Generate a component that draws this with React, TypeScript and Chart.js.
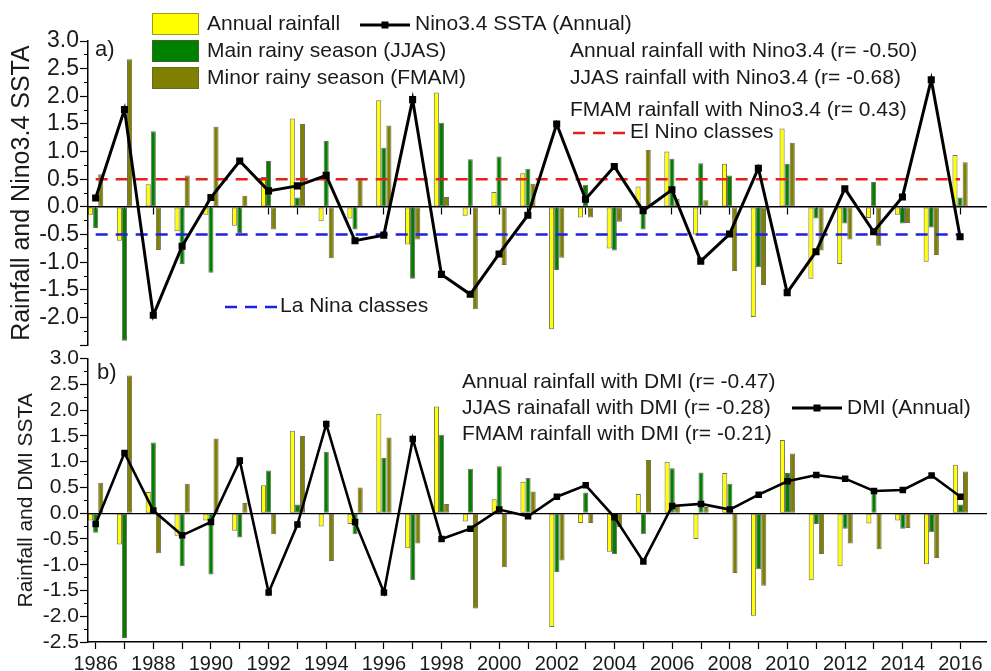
import React, { useEffect, useRef } from 'react';
import { Chart, registerables } from 'chart.js';

Chart.register(...registerables);

// ---------------- data ----------------
const years = [
  1986, 1987, 1988, 1989, 1990, 1991, 1992, 1993, 1994, 1995, 1996,
  1997, 1998, 1999, 2000, 2001, 2002, 2003, 2004, 2005, 2006, 2007,
  2008, 2009, 2010, 2011, 2012, 2013, 2014, 2015, 2016,
];

const annualRainfall = [
  -0.14, -0.61, 0.41, -0.44, -0.14, -0.34, 0.54, 1.6, -0.26, -0.21, 1.93,
  -0.68, 2.07, -0.16, 0.27, 0.61, -2.21, -0.19, -0.75, 0.37, 1.0, -0.5,
  0.78, -1.99, 1.42, -1.3, -1.03, -0.2, -0.14, -0.99, 0.94,
];

const jjasRainfall = [
  -0.38, -2.42, 1.37, -1.03, -1.19, -0.47, 0.83, 0.17, 1.19, -0.41, 1.07,
  -1.3, 1.52, 0.86, 0.91, 0.69, -1.14, 0.4, -0.79, -0.41, 0.87, 0.79,
  0.57, -1.09, 0.78, -0.21, -0.3, 0.45, -0.3, -0.37, 0.17,
];

const fmamRainfall = [
  0.59, 2.67, -0.78, 0.57, 1.45, 0.2, -0.41, 1.5, -0.93, 0.5, 1.47,
  -0.59, 0.18, -1.85, -1.05, 0.42, -0.92, -0.19, -0.27, 1.03, 0.15, 0.12,
  -1.16, -1.41, 1.16, -0.79, -0.59, -0.7, -0.29, -0.87, 0.81,
];

const nino34 = [
  0.16, 1.76, -1.96, -0.71, 0.17, 0.83, 0.29, 0.38, 0.57, -0.61, -0.51,
  1.94, -1.22, -1.58, -0.85, -0.15, 1.5, 0.14, 0.73, -0.07, 0.31, -0.98,
  -0.49, 0.7, -1.55, -0.81, 0.33, -0.45, 0.18, 2.3, -0.54,
];

const dmi = [
  -0.21, 1.17, 0.05, -0.43, -0.17, 1.02, -1.54, -0.22, 1.73, -0.17, -1.54,
  1.44, -0.5, -0.3, 0.07, -0.06, 0.32, 0.54, -0.08, -0.94, 0.14, 0.18,
  0.07, 0.36, 0.62, 0.74, 0.67, 0.43, 0.45, 0.73, 0.32,
];

const elNinoThreshold = 0.5;
const laNinaThreshold = -0.5;

const topCorrelations = [
  'Annual rainfall with Nino3.4 (r= -0.50)',
  'JJAS rainfall with Nino3.4 (r= -0.68)',
  'FMAM rainfall with Nino3.4 (r= 0.43)',
];
const bottomCorrelations = [
  'Annual rainfall with DMI (r= -0.47)',
  'JJAS rainafall with DMI (r= -0.28)',
  'FMAM rainfall with DMI (r= -0.21)',
];
const seriesLabels = ['Annual rainfall', 'Main rainy season (JJAS)', 'Minor rainy season (FMAM)'];

// ---------------- styling ----------------
const FONT = '"Liberation Sans", Arial, Helvetica, sans-serif';
const TEXT = '#1a1a1a';
const X_MIN = 1985.734;
const X_MAX = 2016.9;
const Y_MIN = -2.5;
const Y_MAX = 3.0;
const COLORS = {
  annual: '#ffff00',
  jjas: '#008000',
  fmam: '#808000',
  elNino: '#e3211c',
  laNina: '#2020e0',
};

const pts = (vals: number[]) => years.map((x, i) => ({ x, y: vals[i] }));

function barDatasets() {
  const common = {
    type: 'bar' as const,
    borderWidth: 1,
    borderColor: 'rgba(50,50,20,0.7)',
    borderSkipped: false,
    categoryPercentage: 0.53,
    barPercentage: 1,
    order: 3,
    xAxisID: 'x',
    yAxisID: 'y',
  };
  return [
    { ...common, label: seriesLabels[0], data: pts(annualRainfall), backgroundColor: COLORS.annual },
    { ...common, label: seriesLabels[1], data: pts(jjasRainfall), backgroundColor: COLORS.jjas },
    { ...common, label: seriesLabels[2], data: pts(fmamRainfall), backgroundColor: COLORS.fmam },
  ];
}

function yScales(tickSize: number, title: string, titleSize: number, titlePad: number, hideBottom: boolean) {
  return {
    y: {
      type: 'linear',
      position: 'left',
      min: Y_MIN,
      max: Y_MAX,
      afterFit: (s: any) => {
        s.width = 88;
      },
      ticks: {
        stepSize: 0.5,
        autoSkip: false,
        padding: 1,
        color: TEXT,
        font: { family: FONT, size: tickSize },
        callback: (v: any) => (hideBottom && Number(v) < -2.4 ? '' : Number(v).toFixed(1)),
      },
      grid: { display: true, drawOnChartArea: false, drawTicks: true, tickLength: 8, color: '#000', tickWidth: 1.2 },
      border: { display: true, color: '#000', width: 1.5 },
      title: {
        display: true,
        text: title,
        color: TEXT,
        font: { family: FONT, size: titleSize },
        padding: { top: titlePad, bottom: 0 },
      },
    },
    yMinor: {
      type: 'linear',
      axis: 'y',
      position: { x: X_MIN },
      min: Y_MIN,
      max: Y_MAX,
      ticks: { display: false, stepSize: 0.25, autoSkip: false },
      grid: { display: true, drawOnChartArea: false, drawTicks: true, tickLength: 4, color: '#000', tickWidth: 1 },
      border: { display: false },
    },
  };
}

type Item =
  | { kind: 'text'; text: string; x: number; y: number; size: number }
  | { kind: 'box'; x: number; y: number; w: number; h: number; color: string }
  | { kind: 'line'; x1: number; x2: number; y: number; color: string; width: number; dash?: number[]; marker?: number };

function overlay(id: string, items: Item[], offsetY: number) {
  return {
    id,
    afterDraw(chart: any) {
      const ctx: CanvasRenderingContext2D = chart.ctx;
      ctx.save();
      for (const it of items) {
        if (it.kind === 'text') {
          ctx.fillStyle = TEXT;
          ctx.font = `${it.size}px ${FONT}`;
          ctx.textAlign = 'left';
          ctx.textBaseline = 'middle';
          ctx.fillText(it.text, it.x, it.y - offsetY);
        } else if (it.kind === 'box') {
          ctx.fillStyle = it.color;
          ctx.fillRect(it.x, it.y - offsetY, it.w, it.h);
          ctx.strokeStyle = 'rgba(90,90,60,0.6)';
          ctx.lineWidth = 1;
          ctx.strokeRect(it.x + 0.5, it.y - offsetY + 0.5, it.w - 1, it.h - 1);
        } else {
          ctx.strokeStyle = it.color;
          ctx.lineWidth = it.width;
          ctx.setLineDash(it.dash || []);
          ctx.beginPath();
          ctx.moveTo(it.x1, it.y - offsetY);
          ctx.lineTo(it.x2, it.y - offsetY);
          ctx.stroke();
          ctx.setLineDash([]);
          if (it.marker) {
            const m = it.marker;
            ctx.fillStyle = it.color;
            ctx.fillRect((it.x1 + it.x2) / 2 - m / 2, it.y - offsetY - m / 2, m, m);
          }
        }
      }
      ctx.restore();
    },
  };
}

const TOP_ITEMS: Item[] = [
  { kind: 'text', text: 'a)', x: 95, y: 50, size: 22 },
  { kind: 'box', x: 152, y: 13, w: 47, h: 22, color: COLORS.annual },
  { kind: 'box', x: 152, y: 40, w: 47, h: 22, color: COLORS.jjas },
  { kind: 'box', x: 152, y: 67, w: 47, h: 22, color: COLORS.fmam },
  { kind: 'text', text: seriesLabels[0], x: 207, y: 24, size: 21 },
  { kind: 'text', text: seriesLabels[1], x: 207, y: 51, size: 21 },
  { kind: 'text', text: seriesLabels[2], x: 207, y: 78, size: 21 },
  { kind: 'line', x1: 360, x2: 410, y: 25, color: '#000', width: 3, marker: 7 },
  { kind: 'text', text: 'Nino3.4 SSTA (Annual)', x: 415, y: 24, size: 21 },
  { kind: 'text', text: topCorrelations[0], x: 570, y: 51, size: 21 },
  { kind: 'text', text: topCorrelations[1], x: 570, y: 78, size: 21 },
  { kind: 'text', text: topCorrelations[2], x: 570, y: 110, size: 21 },
  { kind: 'line', x1: 573, x2: 625, y: 133, color: COLORS.elNino, width: 2.5, dash: [12, 8] },
  { kind: 'text', text: 'El Nino classes', x: 630, y: 132, size: 21 },
  { kind: 'line', x1: 225, x2: 277, y: 307, color: COLORS.laNina, width: 2.5, dash: [12, 8] },
  { kind: 'text', text: 'La Nina classes', x: 280, y: 306, size: 21 },
];

const BOTTOM_TOP = 345;
const BOTTOM_ITEMS: Item[] = [
  { kind: 'text', text: 'b)', x: 97, y: 373, size: 22 },
  { kind: 'text', text: bottomCorrelations[0], x: 462, y: 382, size: 21 },
  { kind: 'text', text: bottomCorrelations[1], x: 462, y: 408, size: 21 },
  { kind: 'text', text: bottomCorrelations[2], x: 462, y: 434, size: 21 },
  { kind: 'line', x1: 792, x2: 842, y: 408, color: '#000', width: 3, marker: 7 },
  { kind: 'text', text: 'DMI (Annual)', x: 847, y: 408, size: 21 },
];

function topConfig(): any {
  return {
    type: 'bar',
    data: {
      datasets: [
        {
          type: 'line',
          label: 'Nino3.4 SSTA (Annual)',
          data: pts(nino34),
          borderColor: '#000',
          borderWidth: 3,
          pointStyle: 'rect',
          pointRadius: 5,
          pointBackgroundColor: '#000',
          pointBorderWidth: 0,
          order: 0,
          xAxisID: 'x',
          yAxisID: 'y',
        },
        {
          type: 'line',
          label: 'El Nino classes',
          data: [
            { x: years[0], y: elNinoThreshold },
            { x: years[years.length - 1], y: elNinoThreshold },
          ],
          borderColor: COLORS.elNino,
          borderWidth: 2.5,
          borderDash: [12, 8],
          pointRadius: 0,
          order: 1,
          xAxisID: 'x',
          yAxisID: 'y',
        },
        {
          type: 'line',
          label: 'La Nina classes',
          data: [
            { x: years[0], y: laNinaThreshold },
            { x: years[years.length - 1], y: laNinaThreshold },
          ],
          borderColor: COLORS.laNina,
          borderWidth: 2.5,
          borderDash: [12, 8],
          pointRadius: 0,
          order: 1,
          xAxisID: 'x',
          yAxisID: 'y',
        },
        ...barDatasets(),
      ],
    },
    options: {
      responsive: false,
      animation: false,
      layout: { padding: { left: 0, right: 1, top: 41, bottom: 11 } },
      plugins: { legend: { display: false }, tooltip: { enabled: false } },
      scales: {
        x: {
          type: 'linear',
          axis: 'x',
          position: { y: 0 },
          min: X_MIN,
          max: X_MAX,
          offset: false,
          ticks: { display: false, stepSize: 1, autoSkip: false, includeBounds: false },
          grid: { display: true, offset: false, drawOnChartArea: false, drawTicks: true, tickLength: 7, color: '#000', tickWidth: 1.2 },
          border: { display: true, color: '#000', width: 1.5 },
        },
        ...yScales(23, 'Rainfall and Nino3.4 SSTA', 25, 7.5, true),
      },
    },
    plugins: [overlay('topText', TOP_ITEMS, 0)],
  };
}

function bottomConfig(): any {
  return {
    type: 'bar',
    data: {
      datasets: [
        {
          type: 'line',
          label: 'DMI (Annual)',
          data: pts(dmi),
          borderColor: '#000',
          borderWidth: 2.6,
          pointStyle: 'rect',
          pointRadius: 4.6,
          pointBackgroundColor: '#000',
          pointBorderWidth: 0,
          order: 0,
          xAxisID: 'x',
          yAxisID: 'y',
        },
        ...barDatasets(),
      ],
    },
    options: {
      responsive: false,
      animation: false,
      layout: { padding: { left: 0, right: 1, top: 13, bottom: 0 } },
      plugins: { legend: { display: false }, tooltip: { enabled: false } },
      scales: {
        x: {
          type: 'linear',
          position: 'bottom',
          min: X_MIN,
          max: X_MAX,
          offset: false,
          afterFit: (s: any) => {
            s.height = 29;
          },
          ticks: {
            stepSize: 1,
            autoSkip: false,
            includeBounds: false,
            maxRotation: 0,
            minRotation: 0,
            padding: 3,
            color: TEXT,
            font: { family: FONT, size: 20 },
            callback: (v: any) => (Number(v) % 2 === 0 ? String(v) : ''),
          },
          grid: { display: true, offset: false, drawOnChartArea: false, drawTicks: true, tickLength: 7, color: '#000', tickWidth: 1.2 },
          border: { display: true, color: '#000', width: 1.5 },
        },
        zero: {
          type: 'linear',
          axis: 'x',
          position: { y: 0 },
          min: X_MIN,
          max: X_MAX,
          ticks: { display: false },
          grid: { display: false },
          border: { display: true, color: '#000', width: 1.3 },
        },
        ...yScales(21, 'Rainfall and DMI SSTA', 21, 13.5, false),
      },
    },
    plugins: [overlay('bottomText', BOTTOM_ITEMS, BOTTOM_TOP)],
  };
}

function ChartCanvas(props: { top: number; height: number; make: () => any }) {
  const ref = useRef<HTMLCanvasElement | null>(null);
  useEffect(() => {
    if (!ref.current) return;
    const chart = new Chart(ref.current, props.make());
    return () => chart.destroy();
  }, []);
  return (
    <canvas
      ref={ref}
      width={991}
      height={props.height}
      style={{ position: 'absolute', left: 0, top: props.top, width: 991, height: props.height, display: 'block' }}
    />
  );
}

export default function App() {
  return (
    <div style={{ position: 'absolute', left: 0, top: 0, width: 991, height: 671, background: '#fff', overflow: 'hidden' }}>
      <ChartCanvas top={0} height={360} make={topConfig} />
      <ChartCanvas top={BOTTOM_TOP} height={671 - BOTTOM_TOP} make={bottomConfig} />
    </div>
  );
}
